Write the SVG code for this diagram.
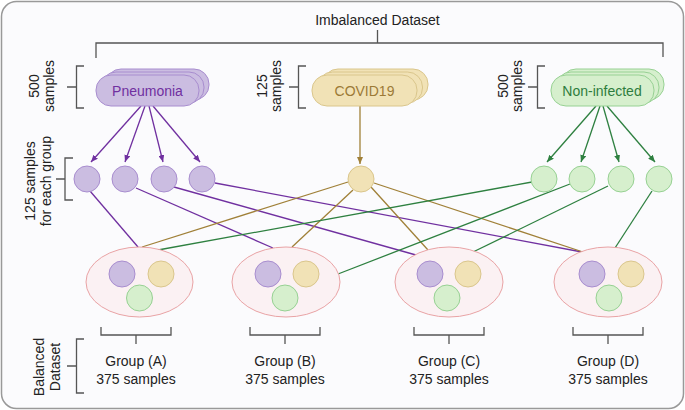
<svg xmlns="http://www.w3.org/2000/svg" width="685" height="410" viewBox="0 0 685 410">
<defs>
<style>
.t{font-family:"Liberation Sans",Arial,sans-serif;font-size:14px;fill:#222}
.br{fill:none;stroke:#555;stroke-width:1.3}
.pc{fill:#cbbde1;stroke:#a88dcf;stroke-width:1}
.yc{fill:#f1e2b6;stroke:#dac68c;stroke-width:1}
.gc{fill:#d6efcd;stroke:#97d193;stroke-width:1}
.el{fill:#fbf1f3;stroke:#e9a3a5;stroke-width:1}
.lp{fill:none;stroke:#7030a0;stroke-width:1.3}
.ly{fill:none;stroke:#a08038;stroke-width:1.3}
.lg{fill:none;stroke:#2e8040;stroke-width:1.3}
</style>
<marker id="ap" markerWidth="7" markerHeight="6" refX="7" refY="3" orient="auto" markerUnits="userSpaceOnUse"><path d="M0,0 L7,3 L0,6 z" fill="#7030a0"/></marker>
<marker id="ay" markerWidth="7" markerHeight="6" refX="7" refY="3" orient="auto" markerUnits="userSpaceOnUse"><path d="M0,0 L7,3 L0,6 z" fill="#a08038"/></marker>
<marker id="ag" markerWidth="7" markerHeight="6" refX="7" refY="3" orient="auto" markerUnits="userSpaceOnUse"><path d="M0,0 L7,3 L0,6 z" fill="#2e8040"/></marker>
</defs>
<rect x="1.5" y="1.5" width="682" height="407" rx="15" fill="#fbfbfd" stroke="#999" stroke-width="1.5"/>

<g id="labels">
<text class="t" x="377.5" y="25" text-anchor="middle">Imbalanced Dataset</text>
<path class="br" d="M377.5,30 V43 M96,58 V43 H663 V57"/>
<g transform="translate(0,86) rotate(-90)"><text class="t" text-anchor="middle"><tspan x="0" y="39">500</tspan><tspan x="0" y="54">samples</tspan></text></g>
<path class="br" d="M84,66 H76.5 V108 H84 M67,87 H76.5"/>
<g transform="translate(0,86) rotate(-90)"><text class="t" text-anchor="middle"><tspan x="0" y="267">125</tspan><tspan x="0" y="281">samples</tspan></text></g>
<path class="br" d="M306,66 H298.5 V108 H306 M289,87 H298.5"/>
<g transform="translate(0,86) rotate(-90)"><text class="t" text-anchor="middle"><tspan x="0" y="508">500</tspan><tspan x="0" y="522">samples</tspan></text></g>
<path class="br" d="M545,66 H537.5 V108 H545 M528,87 H537.5"/>
<g transform="translate(0,181) rotate(-90)"><text class="t" text-anchor="middle"><tspan x="0" y="35">125 samples</tspan><tspan x="0" y="51">for each group</tspan></text></g>
<path class="br" d="M73,158 H65 V200 H73 M56,179 H65"/>
<g transform="translate(0,367) rotate(-90)"><text class="t" text-anchor="middle"><tspan x="0" y="43.5">Balanced</tspan><tspan x="0" y="59.5">Dataset</tspan></text></g>
<path class="br" d="M84,339 H76.5 V393 H84 M67,366 H76.5"/>
</g>

<g id="connectors">
<path class="lp" d="M141,106 L91,162" marker-end="url(#ap)"/>
<path class="lp" d="M145,106 L125,162" marker-end="url(#ap)"/>
<path class="lp" d="M149,106 L163,162" marker-end="url(#ap)"/>
<path class="lp" d="M153,106 L200,162" marker-end="url(#ap)"/>
<path class="ly" d="M360,106 L360,164" marker-end="url(#ay)"/>
<path class="lg" d="M596,106 L547,162" marker-end="url(#ag)"/>
<path class="lg" d="M600,106 L581,162" marker-end="url(#ag)"/>
<path class="lg" d="M603,106 L619,162" marker-end="url(#ag)"/>
<path class="lg" d="M607,106 L655,162" marker-end="url(#ag)"/>
<path class="lp" d="M90,191 L138,247"/>
<path class="lp" d="M136,188 L273,248"/>
<path class="lp" d="M174,187 L416,255"/>
<path class="lp" d="M215,183 L582,252"/>
<path class="ly" d="M348,182 L142,247"/>
<path class="ly" d="M353,190 L292,247"/>
<path class="ly" d="M371,187 L428,250"/>
<path class="ly" d="M374,183 L583,252"/>
<path class="lg" d="M532,182 L158,250"/>
<path class="lg" d="M570,184 L338,274"/>
<path class="lg" d="M608,186 L473,252"/>
<path class="lg" d="M652,191 L615,248"/>
</g>

<g id="pneumonia">
<rect class="pc" x="106" y="69" width="103" height="31" rx="15"/>
<rect class="pc" x="101" y="72" width="103" height="31" rx="15"/>
<rect class="pc" x="96" y="75" width="103" height="31" rx="15"/>
<text class="t" x="147.5" y="96" text-anchor="middle" style="fill:#7030a0">Pneumonia</text>
</g>
<g id="covid19">
<rect class="yc" x="323" y="69" width="105" height="31" rx="15"/>
<rect class="yc" x="317.5" y="72" width="105" height="31" rx="15"/>
<rect class="yc" x="312" y="75" width="105" height="31" rx="15"/>
<text class="t" x="364.5" y="96" text-anchor="middle" style="fill:#9c7a36">COVID19</text>
</g>
<g id="non-infected">
<rect class="gc" x="561" y="69" width="103" height="31" rx="15"/>
<rect class="gc" x="556" y="72" width="103" height="31" rx="15"/>
<rect class="gc" x="551" y="75" width="103" height="31" rx="15"/>
<text class="t" x="602" y="96" text-anchor="middle" style="fill:#2e7d3e">Non-infected</text>
</g>

<g id="p1"><circle class="pc" cx="87" cy="179" r="13"/></g>
<g id="p2"><circle class="pc" cx="125" cy="179" r="13"/></g>
<g id="p3"><circle class="pc" cx="164" cy="179" r="13"/></g>
<g id="p4"><circle class="pc" cx="202" cy="179" r="13"/></g>
<g id="c1"><circle class="yc" cx="361" cy="179" r="13"/></g>
<g id="g1"><circle class="gc" cx="544" cy="179" r="13"/></g>
<g id="g2"><circle class="gc" cx="582" cy="179" r="13"/></g>
<g id="g3"><circle class="gc" cx="621" cy="179" r="13"/></g>
<g id="g4"><circle class="gc" cx="659" cy="179" r="13"/></g>

<g id="groupA">
<ellipse class="el" cx="139.5" cy="282" rx="53.5" ry="35"/>
<circle class="pc" cx="122" cy="274" r="13"/>
<circle class="yc" cx="161" cy="274" r="13"/>
<circle class="gc" cx="139.5" cy="298" r="13"/>
<path class="br" d="M101,327 V335 H171 V327 M136,335 V344"/>
<text class="t" x="136" y="366" text-anchor="middle">Group (A)</text>
<text class="t" x="136" y="384" text-anchor="middle">375 samples</text>
</g>
<g id="groupB">
<ellipse class="el" cx="286" cy="282" rx="54" ry="35"/>
<circle class="pc" cx="268" cy="274" r="13"/>
<circle class="yc" cx="306" cy="274" r="13"/>
<circle class="gc" cx="285" cy="298" r="13"/>
<path class="br" d="M250,327 V335 H320 V327 M285,335 V344"/>
<text class="t" x="285" y="366" text-anchor="middle">Group (B)</text>
<text class="t" x="285" y="384" text-anchor="middle">375 samples</text>
</g>
<g id="groupC">
<ellipse class="el" cx="449" cy="282" rx="54" ry="35"/>
<circle class="pc" cx="430" cy="274" r="13"/>
<circle class="yc" cx="468" cy="274" r="13"/>
<circle class="gc" cx="447" cy="298" r="13"/>
<path class="br" d="M414,327 V335 H484 V327 M449,335 V344"/>
<text class="t" x="449" y="366" text-anchor="middle">Group (C)</text>
<text class="t" x="449" y="384" text-anchor="middle">375 samples</text>
</g>
<g id="groupD">
<ellipse class="el" cx="608" cy="282" rx="54" ry="35"/>
<circle class="pc" cx="592" cy="274" r="13"/>
<circle class="yc" cx="631" cy="274" r="13"/>
<circle class="gc" cx="609" cy="298" r="13"/>
<path class="br" d="M573,327 V335 H643 V327 M608,335 V344"/>
<text class="t" x="608" y="366" text-anchor="middle">Group (D)</text>
<text class="t" x="608" y="384" text-anchor="middle">375 samples</text>
</g>
</svg>
